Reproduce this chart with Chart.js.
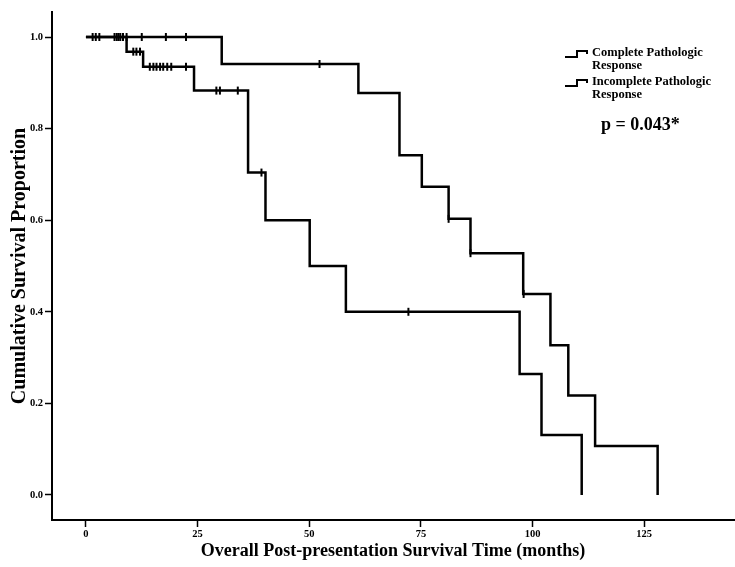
<!DOCTYPE html>
<html>
<head>
<meta charset="utf-8">
<script src="https://cdn.jsdelivr.net/npm/chart.js@4.4.1/dist/chart.umd.min.js"></script>
<style>
  html, body { margin: 0; padding: 0; background: #fff; }
  #wrap { position: relative; width: 735px; height: 567px; overflow: hidden; }
  #chart { position: absolute; left: 0; top: 0; }
  .legend { position: absolute; font-family: "Liberation Serif", serif; font-weight: bold; font-size: 12.5px; line-height: 13px; color: #000; }
  .legend svg { position: absolute; left: -27px; top: 2px; }
  #pval { position: absolute; left: 601px; top: 114px; font-family: "Liberation Serif", serif; font-weight: bold; font-size: 18px; color: #000; }
</style>
</head>
<body>
<div id="wrap">
  <canvas id="chart" width="740" height="567"></canvas>
  <div class="legend" style="left:592px; top:46px;">
    <svg width="26" height="12"><polyline points="0,9 12,9 12,3 22,3 22,6" fill="none" stroke="#000" stroke-width="2"/></svg>
    Complete Pathologic<br>Response
  </div>
  <div class="legend" style="left:592px; top:75px;">
    <svg width="26" height="12"><polyline points="0,9 12,9 12,3 22,3 22,6" fill="none" stroke="#000" stroke-width="2"/></svg>
    Incomplete Pathologic<br>Response
  </div>
  <div id="pval">p = 0.043*</div>
</div>
<script>
// Kaplan-Meier step data (months, survival proportion)
const completeTimes = [0, 30.4, 61, 70.2, 75.2, 81.2, 86.1, 97.9, 104, 108, 114, 128];
const completeSurv  = [1, 0.941, 0.878, 0.742, 0.673, 0.603, 0.528, 0.439, 0.327, 0.217, 0.107, 0];
const incompleteTimes = [0, 9.1, 12.8, 24.2, 36.3, 40.2, 50.1, 58.2, 97.1, 102, 111];
const incompleteSurv  = [1, 0.968, 0.935, 0.883, 0.704, 0.60, 0.50, 0.40, 0.264, 0.131, 0];

// censored observations (tick marks)
const completeCensored = [9.1, 12.5, 17.9, 22.4, 52.3, 81.2, 86.1, 98];
const incompleteCensored = [1.5, 2.2, 3.0, 6.4, 6.9, 7.3, 7.7, 8.3, 10.6, 11.3, 12.1, 14.3, 15.1, 15.8, 16.6, 17.3, 18.2, 19.1, 22.4, 29.2, 30.0, 34, 39.3, 72.2];

const xTicks = [0, 25, 50, 75, 100, 125];
const yTicks = [0, 0.2, 0.4, 0.6, 0.8, 1.0];

function toPoints(times, surv) {
    return times.map((t, i) => ({ x: t, y: surv[i] }));
}

function survAt(times, surv, t) {
    let s = surv[0];
    for (let i = 0; i < times.length; i++) {
        if (times[i] <= t) s = surv[i];
    }
    return s;
}

function censorPoints(cens, times, surv) {
    return cens.map(t => ({ x: t, y: survAt(times, surv, t) }));
}

const tickFont = { family: 'Liberation Serif', weight: 'bold', size: 10.5 };

const censorStyle = {
    type: 'scatter',
    pointStyle: 'line',
    rotation: 90,
    pointRadius: 4,
    borderWidth: 2,
    borderColor: '#000',
    backgroundColor: '#000',
    showLine: false
};

new Chart(document.getElementById('chart'), {
    type: 'line',
    data: {
        datasets: [
            {
                label: 'Complete Pathologic Response',
                data: toPoints(completeTimes, completeSurv),
                stepped: true,
                borderColor: '#000',
                borderWidth: 2.5,
                pointRadius: 0,
                fill: false
            },
            {
                label: 'Incomplete Pathologic Response',
                data: toPoints(incompleteTimes, incompleteSurv),
                stepped: true,
                borderColor: '#000',
                borderWidth: 2.5,
                pointRadius: 0,
                fill: false
            },
            Object.assign({ label: 'complete censored', data: censorPoints(completeCensored, completeTimes, completeSurv) }, censorStyle),
            Object.assign({ label: 'incomplete censored', data: censorPoints(incompleteCensored, incompleteTimes, incompleteSurv) }, censorStyle)
        ]
    },
    options: {
        responsive: false,
        animation: false,
        layout: { padding: { top: 12, right: 0, left: 0, bottom: 0 } },
        plugins: {
            legend: { display: false },
            tooltip: { enabled: false }
        },
        scales: {
            x: {
                type: 'linear',
                min: -7.6,
                max: 145.1,
                afterBuildTicks: (axis) => { axis.ticks = xTicks.map(v => ({ value: v })); },
                afterFit: (axis) => { axis.height = 47; },
                ticks: { color: '#000', font: tickFont, padding: 1, maxRotation: 0 },
                grid: { display: true, drawOnChartArea: false, drawTicks: true, tickLength: 7, tickWidth: 1.5, tickColor: '#000' },
                border: { display: true, color: '#000', width: 2 },
                title: { display: true, text: 'Overall Post-presentation Survival Time (months)', color: '#000',
                         font: { family: 'Liberation Serif', weight: 'bold', size: 18 }, padding: { top: 0, bottom: 5 } }
            },
            y: {
                type: 'linear',
                min: -0.0546,
                max: 1.0546,
                afterBuildTicks: (axis) => { axis.ticks = yTicks.map(v => ({ value: v })); },
                afterFit: (axis) => { axis.width = 52; },
                ticks: { color: '#000', font: tickFont, padding: 2, callback: (v) => v.toFixed(1) },
                grid: { display: true, drawOnChartArea: false, drawTicks: true, tickLength: 7, tickWidth: 1.5, tickColor: '#000' },
                border: { display: true, color: '#000', width: 2 },
                title: { display: true, text: 'Cumulative Survival Proportion', color: '#000',
                         font: { family: 'Liberation Serif', weight: 'bold', size: 20 }, padding: { top: 8, bottom: 0 } }
            }
        }
    }
});
</script>
</body>
</html>
